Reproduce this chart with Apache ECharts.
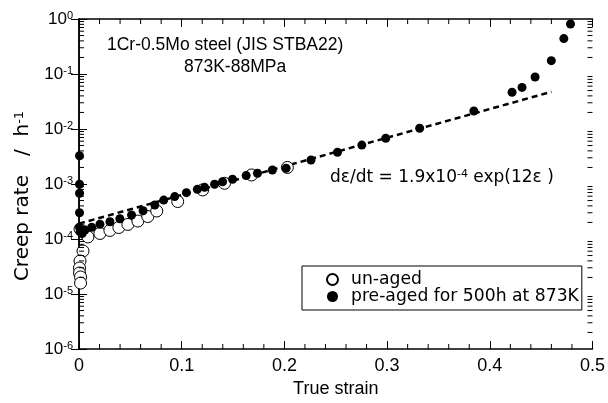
<!DOCTYPE html>
<html>
<head>
<meta charset="utf-8">
<script src="https://cdn.jsdelivr.net/npm/echarts@6/dist/echarts.min.js"></script>
<style>
  html, body { margin: 0; padding: 0; background: #fff; }
  #chart { width: 608px; height: 403px; }
</style>
</head>
<body>
<div id="chart"></div>
<script>
// Creep rate vs true strain, 1Cr-0.5Mo steel at 873 K / 88 MPa
const strainUnaged = [0.001, 0.0039, 0.001, 0.0005, 0.0005, 0.0015, 0.0015,
  0.0087, 0.0204, 0.0301, 0.0388, 0.0476, 0.0573, 0.067, 0.0757, 0.0961,
  0.1204, 0.1417, 0.168, 0.2029];
const rateUnaged = [1.52e-4, 6.05e-5, 3.98e-5, 2.97e-5, 2.41e-5, 2.04e-5, 1.58e-5,
  1.09e-4, 1.26e-4, 1.43e-4, 1.62e-4, 1.84e-4, 2.12e-4, 2.56e-4, 3.23e-4, 4.8e-4,
  7.8e-4, 1.03e-3, 1.46e-3, 2.0e-3];

const strainPreAged = [0.0005, 0.0005, 0.0005, 0.0005, 0.0005, 0.001, 0.003,
  0.0058, 0.0123, 0.0204, 0.0301, 0.0398, 0.0512, 0.0624, 0.0738, 0.0825, 0.0932,
  0.1046, 0.1152, 0.1223, 0.132, 0.1398, 0.1495, 0.1628, 0.1738, 0.1883, 0.2017,
  0.2259, 0.2517, 0.2754, 0.2987, 0.3317, 0.3845, 0.4217, 0.4314, 0.4441,
  0.4599, 0.4721, 0.4786];
const ratePreAged = [3.27e-3, 9.9e-4, 6.8e-4, 3.0e-4, 1.63e-4, 1.35e-4, 1.25e-4,
  1.46e-4, 1.63e-4, 1.85e-4, 2.06e-4, 2.34e-4, 2.73e-4, 3.27e-4, 4.15e-4, 5.1e-4, 5.9e-4,
  6.95e-4, 8.0e-4, 8.7e-4, 9.9e-4, 1.10e-3, 1.22e-3, 1.42e-3, 1.57e-3, 1.80e-3, 1.93e-3,
  2.73e-3, 3.77e-3, 5.1e-3, 6.8e-3, 1.03e-2, 2.12e-2, 4.65e-2, 5.7e-2, 8.8e-2,
  0.175, 0.44, 0.81];

// Fitted relation  dε/dt = A·exp(B·ε), drawn over the steady range
const fitA = 1.9e-4;
const fitB = 12;
const fitStrain = [0, 0.46];

// Axis ticks
const xTicks = [0, 0.1, 0.2, 0.3, 0.4, 0.5];
const xMinorStep = 0.02;
const yDecades = [-6, -5, -4, -3, -2, -1, 0];

const FONT = "'Liberation Sans', Arial, sans-serif";
const WIDE = "'DejaVu Sans', Verdana, sans-serif";

const zip = (xs, ys) => xs.map((x, i) => [x, ys[i]]);
const fitData = fitStrain.map(e => [e, fitA * Math.exp(fitB * e)]);

// minor log ticks 2..9 × 10^n on both vertical frame edges
const minorY = [];
for (let d = yDecades[0]; d < yDecades[yDecades.length - 1]; d++) {
  for (let k = 2; k <= 9; k++) minorY.push([0, k * Math.pow(10, d)]);
}
// minor strain ticks every 0.02 on bottom and top edges
const minorX = [];
const xMax = xTicks[xTicks.length - 1];
for (let i = 1; i * xMinorStep < xMax - 1e-9; i++) {
  const v = +(i * xMinorStep).toFixed(2);
  if (Math.abs(v * 10 - Math.round(v * 10)) > 1e-6) minorX.push([v, 1e-6]);
}

const chart = echarts.init(document.getElementById('chart'), null, { renderer: 'canvas' });

const supRich = {
  b: { fontSize: 17, fontFamily: FONT, color: '#000' },
  s: { fontSize: 11, fontFamily: FONT, color: '#000', verticalAlign: 'top' }
};

const commonX = {
  type: 'value', min: xTicks[0], max: xMax, interval: 0.1,
  axisLine: { show: true, lineStyle: { color: '#000', width: 1.5 } },
  axisTick: { show: true, inside: true, length: 8, lineStyle: { color: '#000', width: 1 } },
  splitLine: { show: false }
};
const commonY = {
  type: 'log', logBase: 10, min: 1e-6, max: 1,
  axisLine: { show: true, lineStyle: { color: '#000', width: 1.5 } },
  axisTick: { show: true, inside: true, length: 8, lineStyle: { color: '#000', width: 1 } },
  splitLine: { show: false }
};

const tickLine = (x1, y1, x2, y2) => ({
  type: 'line', shape: { x1, y1, x2, y2 }, style: { stroke: '#000', lineWidth: 1 }
});

chart.setOption({
  backgroundColor: '#fff',
  animation: false,
  grid: { left: 79, right: 14, top: 19, bottom: 54 },
  xAxis: [
    Object.assign({}, commonX, {
      position: 'bottom',
      name: 'True strain', nameLocation: 'middle', nameGap: 30,
      nameTextStyle: { fontSize: 18, fontFamily: FONT, color: '#000' },
      axisLabel: { show: true, margin: 8, fontSize: 18, fontFamily: FONT, color: '#000',
        formatter: v => String(+v.toFixed(1)) }
    }),
    Object.assign({}, commonX, { position: 'top', axisLabel: { show: false } })
  ],
  yAxis: [
    Object.assign({}, commonY, {
      position: 'left',
      name: '{t|Creep rate   /  h}{s|-1}', nameLocation: 'middle', nameGap: 46,
      nameTextStyle: {
        fontSize: 20, fontFamily: WIDE, color: '#000', padding: [0, 24, 0, 0],
        rich: {
          t: { fontSize: 20, fontFamily: WIDE, color: '#000' },
          s: { fontSize: 13, fontFamily: WIDE, color: '#000', verticalAlign: 'top' }
        }
      },
      axisLabel: {
        show: true, margin: 6,
        formatter: v => '{b|10}{s|' + Math.round(Math.log10(v)) + '}',
        rich: supRich
      }
    }),
    Object.assign({}, commonY, { position: 'right', axisLabel: { show: false } })
  ],
  legend: {
    left: 302, top: 266,
    orient: 'vertical',
    itemGap: 0, itemWidth: 11, itemHeight: 11,
    padding: [5, 3, 5, 24],
    borderColor: '#000', borderWidth: 1, borderRadius: 0,
    textStyle: { fontSize: 17.2, fontFamily: WIDE, color: '#000', padding: [0, 0, 0, 8] },
    data: [
      { name: 'un-aged', icon: 'circle' },
      { name: 'pre-aged for 500h at 873K', icon: 'circle' }
    ]
  },
  graphic: [
    { type: 'text', left: 107, top: 36,
      style: { text: '1Cr-0.5Mo steel (JIS STBA22)', font: '17.5px ' + FONT, fill: '#000' } },
    { type: 'text', left: 184, top: 58,
      style: { text: '873K-88MPa', font: '17.5px ' + FONT, fill: '#000' } },
    { type: 'text', left: 330, top: 169,
      style: {
        text: '{b|dε/dt = 1.9x10}{s|-4}{b| exp(12ε )}',
        rich: {
          b: { fontSize: 17, fontFamily: WIDE, fill: '#000' },
          s: { fontSize: 11, fontFamily: WIDE, fill: '#000', verticalAlign: 'top' }
        }
      } }
  ],
  series: [
    {
      name: 'fit', type: 'line', data: fitData, xAxisIndex: 0, yAxisIndex: 0,
      showSymbol: false, symbol: 'none', silent: true, z: 2,
      lineStyle: { color: '#000', width: 2.5, type: [6, 4] }
    },
    {
      name: 'un-aged', type: 'scatter', data: zip(strainUnaged, rateUnaged),
      xAxisIndex: 0, yAxisIndex: 0, symbol: 'circle', symbolSize: 12, z: 3,
      itemStyle: { color: '#fff', borderColor: '#000', borderWidth: 1, opacity: 1 }
    },
    {
      name: 'pre-aged for 500h at 873K', type: 'scatter', data: zip(strainPreAged, ratePreAged),
      xAxisIndex: 0, yAxisIndex: 0, symbol: 'circle', symbolSize: 9, z: 4,
      itemStyle: { color: '#000', opacity: 1 }
    },
    {
      name: 'minor-y', type: 'custom', data: minorY, xAxisIndex: 0, yAxisIndex: 0,
      silent: true, clip: false, z: 5,
      renderItem: (params, api) => {
        const v = api.value(1);
        const l = api.coord([xTicks[0], v]);
        const r = api.coord([xMax, v]);
        return { type: 'group', children: [
          tickLine(l[0], l[1], l[0] + 5, l[1]),
          tickLine(r[0], r[1], r[0] - 5, r[1])
        ] };
      }
    },
    {
      name: 'minor-x', type: 'custom', data: minorX, xAxisIndex: 0, yAxisIndex: 0,
      silent: true, clip: false, z: 5,
      renderItem: (params, api) => {
        const v = api.value(0);
        const b = api.coord([v, 1e-6]);
        const t = api.coord([v, 1]);
        return { type: 'group', children: [
          tickLine(b[0], b[1], b[0], b[1] - 5),
          tickLine(t[0], t[1], t[0], t[1] + 5)
        ] };
      }
    }
  ]
});
</script>
</body>
</html>
